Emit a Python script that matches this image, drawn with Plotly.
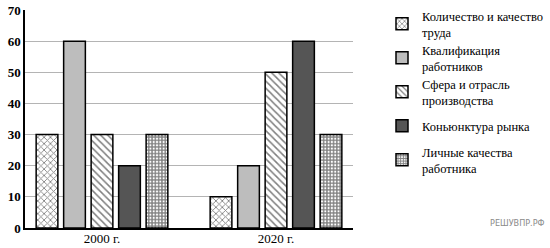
import plotly.graph_objects as go

categories = ["2000 г.", "2020 г."]
series_names = [
    "Количество и качество<br>труда",
    "Квалификация<br>работников",
    "Сфера и отрасль<br>производства",
    "Коньюнктура рынка",
    "Личные качества<br>работника",
]
values_qty = [30, 10]
values_qual = [60, 20]
values_sphere = [30, 50]
values_market = [20, 60]
values_personal = [30, 30]
series_values = [values_qty, values_qual, values_sphere, values_market, values_personal]

styles = [
    dict(color="white", pattern=dict(shape="x", fgcolor="black", bgcolor="white", size=4.5, solidity=0.35)),
    dict(color="#bdbdbd"),
    dict(color="white", pattern=dict(shape="\\", fgcolor="black", bgcolor="white", size=5, solidity=0.3)),
    dict(color="#555555"),
    dict(color="white", pattern=dict(shape="+", fgcolor="black", bgcolor="white", size=3.3, solidity=0.65)),
]

legend_ids = ["legend", "legend2", "legend3", "legend4", "legend5"]
legend_y_px = [24, 58, 92, 126, 160]

serif = "Liberation Serif"

fig = go.Figure()
for name, vals, st, lid in zip(series_names, series_values, styles, legend_ids):
    marker = dict(color=st["color"], line=dict(color="black", width=1.5))
    if "pattern" in st:
        marker["pattern"] = st["pattern"]
    fig.add_trace(go.Bar(x=categories, y=vals, name=name, marker=marker, legend=lid))

plot_top, plot_h = 10, 218
layout_legends = {}
for lid, ypx in zip(legend_ids, legend_y_px):
    layout_legends[lid] = dict(
        x=(382 - 25) / 328, xanchor="left",
        y=(plot_top + plot_h - ypx) / plot_h, yanchor="middle",
        font=dict(family=serif, size=12.5, color="black"),
        bgcolor="rgba(0,0,0,0)", borderwidth=0,
    )

fig.update_layout(
    width=550, height=248,
    margin=dict(l=25, r=197, t=10, b=20, autoexpand=False),
    paper_bgcolor="white", plot_bgcolor="white",
    barmode="group", bargap=0.21, bargroupgap=0.21,
    showlegend=True,
    font=dict(family=serif, color="black"),
    xaxis=dict(
        type="category", range=[-0.4425, 1.4425],
        showline=True, linecolor="black", linewidth=2,
        showgrid=False, ticks="", ticklabelstandoff=-3,
        tickfont=dict(family=serif, size=13, color="black"),
    ),
    yaxis=dict(
        range=[0, 70], dtick=10,
        showline=True, linecolor="black", linewidth=1.5,
        showgrid=True, gridcolor="#b4b4b4", gridwidth=1,
        zeroline=False, ticks="",
        tickfont=dict(family=serif, size=13, color="black", weight="bold"),
    ),
    annotations=[dict(
        text="РЕШУВПР.РФ", xref="paper", yref="paper",
        x=(547 - 25) / 328, y=(228 - 223) / 218, xanchor="right", yanchor="middle",
        showarrow=False, font=dict(family="DejaVu Sans Condensed", size=9, color="#8a8a8a"),
    )],
    **layout_legends,
)

fig.write_html("out.html")
